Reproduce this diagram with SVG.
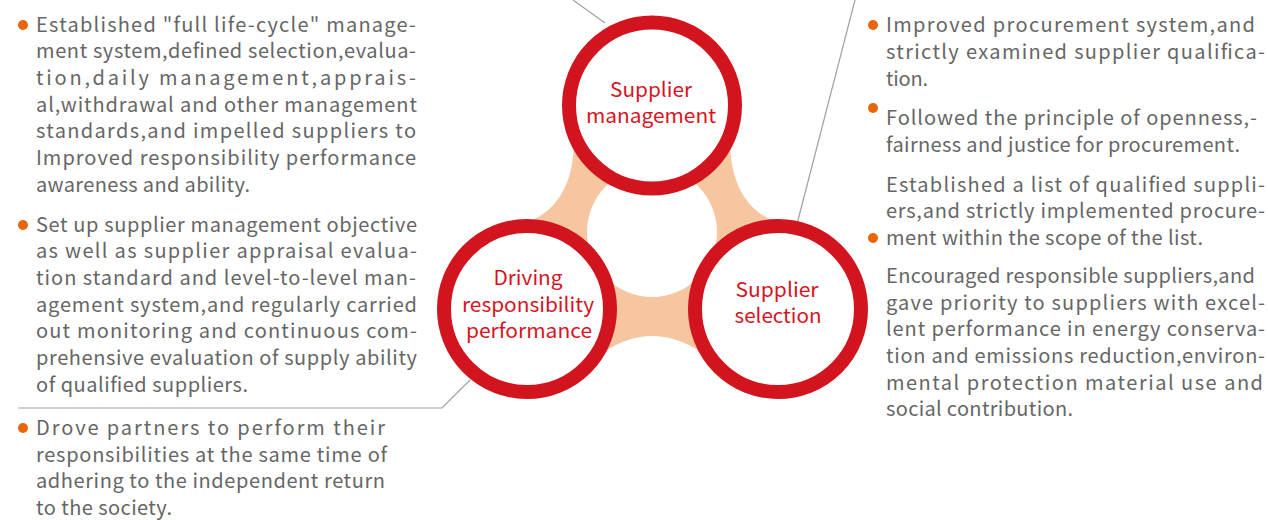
<svg xmlns="http://www.w3.org/2000/svg" width="1268" height="520" viewBox="0 0 1268 520">
<style>
.body{font-family:"Noto Sans CJK SC","Noto Sans",sans-serif;font-size:20px;fill:#666666}
.lbl{font-family:"Noto Sans CJK SC","Noto Sans",sans-serif;font-size:20px;fill:#D7141E;text-anchor:middle}
.ring{fill:#FFFFFF;stroke:#D2141E;stroke-width:14}
.lead{fill:none;stroke:#A0A0A0;stroke-width:1.2}
.dot{fill:#E8650A}
</style>
<rect width="1268" height="520" fill="#FFFFFF"/>
<g id="band">
<path d="M 574 140 C 574 185 556 214 522 224 L 604 352 Q 652 320 701 352 L 782 224 C 748 214 730 185 730 140 Z" fill="#F6C6A1"/>
<circle cx="652" cy="232" r="65" fill="#FFFFFF"/>
</g>
<g id="connectors">
<polyline class="lead" points="573,0 605,23"/>
<polyline class="lead" points="855,0 797,224"/>
<polyline class="lead" points="18,408 442,408 470,380"/>
</g>
<g id="node-supplier-management">
<circle class="ring" cx="652" cy="105.5" r="83"/>
<text class="lbl" x="651" y="96.7" textLength="82" lengthAdjust="spacingAndGlyphs">Supplier</text>
<text class="lbl" x="651" y="123.3" textLength="130" lengthAdjust="spacingAndGlyphs">management</text>
</g>
<g id="node-driving-responsibility">
<circle class="ring" cx="527" cy="309" r="83"/>
<text class="lbl" x="528" y="285" textLength="69" lengthAdjust="spacingAndGlyphs">Driving</text>
<text class="lbl" x="528" y="311.7" textLength="132" lengthAdjust="spacingAndGlyphs">responsibility</text>
<text class="lbl" x="529" y="338" textLength="126" lengthAdjust="spacingAndGlyphs">performance</text>
</g>
<g id="node-supplier-selection">
<circle class="ring" cx="778" cy="309" r="83"/>
<text class="lbl" x="777" y="296.7" textLength="83" lengthAdjust="spacingAndGlyphs">Supplier</text>
<text class="lbl" x="778" y="323.3" textLength="87" lengthAdjust="spacingAndGlyphs">selection</text>
</g>
<g id="text-left-1">
<circle class="dot" cx="23" cy="25" r="5"/>
<text class="body" x="36" y="31.7" textLength="380" lengthAdjust="spacing">Established "full life-cycle" manage-</text>
<text class="body" x="36" y="58.3" textLength="380" lengthAdjust="spacing">ment system,defined selection,evalua-</text>
<text class="body" x="36" y="85" textLength="380" lengthAdjust="spacing">tion,daily management,apprais-</text>
<text class="body" x="36" y="111.7" textLength="381" lengthAdjust="spacing">al,withdrawal and other management</text>
<text class="body" x="36" y="138.3" textLength="380" lengthAdjust="spacing">standards,and impelled suppliers to</text>
<text class="body" x="36" y="165" textLength="380" lengthAdjust="spacing">Improved responsibility performance</text>
<text class="body" x="36" y="191.7" textLength="214" lengthAdjust="spacing">awareness and ability.</text>
</g>
<g id="text-left-2">
<circle class="dot" cx="23" cy="225" r="5"/>
<text class="body" x="36" y="231.7" textLength="381" lengthAdjust="spacing">Set up supplier management objective</text>
<text class="body" x="36" y="258.3" textLength="381" lengthAdjust="spacing">as well as supplier appraisal evalua-</text>
<text class="body" x="36" y="285" textLength="380" lengthAdjust="spacing">tion standard and level-to-level man-</text>
<text class="body" x="36" y="311.7" textLength="381" lengthAdjust="spacing">agement system,and regularly carried</text>
<text class="body" x="36" y="338.3" textLength="381" lengthAdjust="spacing">out monitoring and continuous com-</text>
<text class="body" x="36" y="365" textLength="381" lengthAdjust="spacing">prehensive evaluation of supply ability</text>
<text class="body" x="36" y="391.7" textLength="212" lengthAdjust="spacing">of qualified suppliers.</text>
</g>
<g id="text-left-3">
<circle class="dot" cx="23" cy="428" r="5"/>
<text class="body" x="36" y="435" textLength="349" lengthAdjust="spacing">Drove partners to perform their</text>
<text class="body" x="36" y="461.7" textLength="351" lengthAdjust="spacing">responsibilities at the same time of</text>
<text class="body" x="36" y="488.3" textLength="349" lengthAdjust="spacing">adhering to the independent return</text>
<text class="body" x="36" y="515" textLength="136" lengthAdjust="spacing">to the society.</text>
</g>
<g id="text-right-1">
<circle class="dot" cx="873" cy="25" r="5"/>
<text class="body" x="886" y="32.3" textLength="369" lengthAdjust="spacing">Improved procurement system,and</text>
<text class="body" x="886" y="59" textLength="379" lengthAdjust="spacing">strictly examined supplier qualifica-</text>
<text class="body" x="886" y="85.6" textLength="42" lengthAdjust="spacing">tion.</text>
</g>
<g id="text-right-2">
<circle class="dot" cx="873" cy="108" r="5"/>
<text class="body" x="886" y="125" textLength="371" lengthAdjust="spacing">Followed the principle of openness,-</text>
<text class="body" x="886" y="151.7" textLength="354" lengthAdjust="spacing">fairness and justice for procurement.</text>
</g>
<g id="text-right-3">
<circle class="dot" cx="873" cy="238" r="5"/>
<text class="body" x="886" y="191.7" textLength="379" lengthAdjust="spacing">Established a list of qualified suppli-</text>
<text class="body" x="886" y="218.3" textLength="379" lengthAdjust="spacing">ers,and strictly implemented procure-</text>
<text class="body" x="886" y="245" textLength="317" lengthAdjust="spacing">ment within the scope of the list.</text>
</g>
<g id="text-right-4">
<text class="body" x="886" y="283" textLength="369" lengthAdjust="spacing">Encouraged responsible suppliers,and</text>
<text class="body" x="886" y="309.7" textLength="379" lengthAdjust="spacing">gave priority to suppliers with excel-</text>
<text class="body" x="886" y="336.3" textLength="379" lengthAdjust="spacing">lent performance in energy conserva-</text>
<text class="body" x="886" y="363" textLength="379" lengthAdjust="spacing">tion and emissions reduction,environ-</text>
<text class="body" x="886" y="389.7" textLength="377" lengthAdjust="spacing">mental protection material use and</text>
<text class="body" x="886" y="416.3" textLength="187" lengthAdjust="spacing">social contribution.</text>
</g>
</svg>
